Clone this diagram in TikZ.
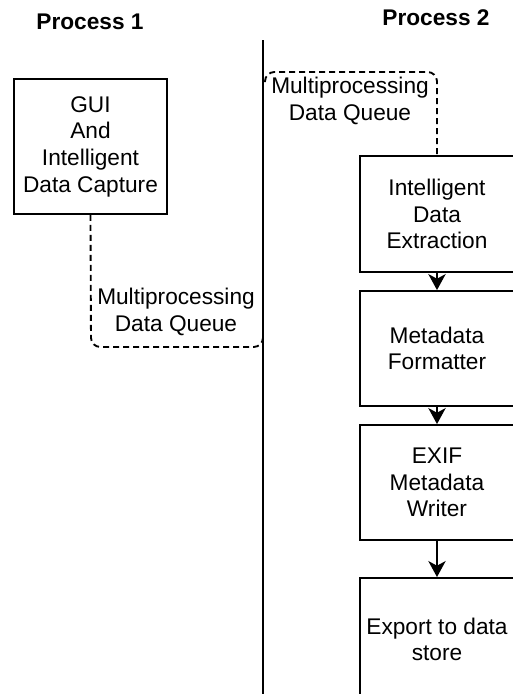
\documentclass[tikz,border=0pt]{standalone}
\usepackage{fontspec}
\setmainfont{Liberation Sans}
\usetikzlibrary{arrows.meta}

\tikzset{
  stage/.style={draw, line width=1.4pt, minimum width=115.5pt, align=center,
                font=\fontsize{17}{20}\selectfont},
  queue/.style={line width=1.4pt, dash pattern=on 4.5pt off 3pt, rounded corners=7pt},
  lane/.style={line width=1.5pt},
  flow/.style={line width=1.4pt, -{Stealth[length=12pt,width=13pt,inset=3.5pt]}},
  title/.style={font=\fontsize{17}{20}\selectfont\bfseries},
  qlabel/.style={align=center, font=\fontsize{17}{20}\selectfont}
}

\begin{document}
\begin{tikzpicture}[x=0.75pt,y=-0.75pt] % 1 px = 0.75 pt, y vers le bas

% --------- PARAMETRES ----------
\def\lanex{263}   % separation des processus
\def\colx{437}    % centre de la colonne de droite
\def\qonex{91}    % file 1, verticale
\def\qoney{347}   % file 1, horizontale
\def\qtwoy{72}    % file 2, horizontale
% --------------------------------

\useasboundingbox (0,0) rectangle (513,694);
\clip (0,0) rectangle (513,694);

% Titres
\node[title] (p1title) at (90,22) {Process 1};
\node[title] (p2title) at (436,18) {Process 2};

% Ligne de separation
\coordinate (lanetop) at (\lanex,40);
\coordinate (lanebot) at (\lanex,700);
\draw[lane] (lanetop) -- (lanebot);

% Process 1
\node[stage, minimum width=114.75pt, minimum height=101.25pt] (gui) at (90.5,146.5)
  {GUI\\And\\Intelligent\\Data Capture};

% Process 2
\node[stage, minimum height=87pt] (extract) at (\colx,214) {Intelligent\\Data\\Extraction};
\node[stage, minimum height=86.25pt] (format) at (\colx,348.5) {Metadata\\Formatter};
\node[stage, minimum height=86.25pt] (writer) at (\colx,482.5) {EXIF\\Metadata\\Writer};
\node[stage, minimum height=92pt] (export) at (\colx,639.3) {Export to data\\store};

% Fleches
\draw[flow] (extract) -- (format);
\draw[flow] (format) -- (writer);
\draw[flow] (writer) -- (export);

% File 1 : GUI -> ligne
\coordinate (q1end) at (\lanex,336);
\draw[queue] (gui.south) -- (\qonex,\qoney) -- (\lanex,\qoney) -- (q1end);
\node[qlabel] (q1lbl) at (176,312) {Multiprocessing\\Data Queue};

% File 2 : ligne -> extraction
\coordinate (q2start) at (\lanex+2,82);
\draw[queue] (q2start) -- (\lanex+2,\qtwoy) -- (\colx,\qtwoy) -- (extract.north);
\node[qlabel] (q2lbl) at (350,101) {Multiprocessing\\Data Queue};

\end{tikzpicture}
\end{document}
